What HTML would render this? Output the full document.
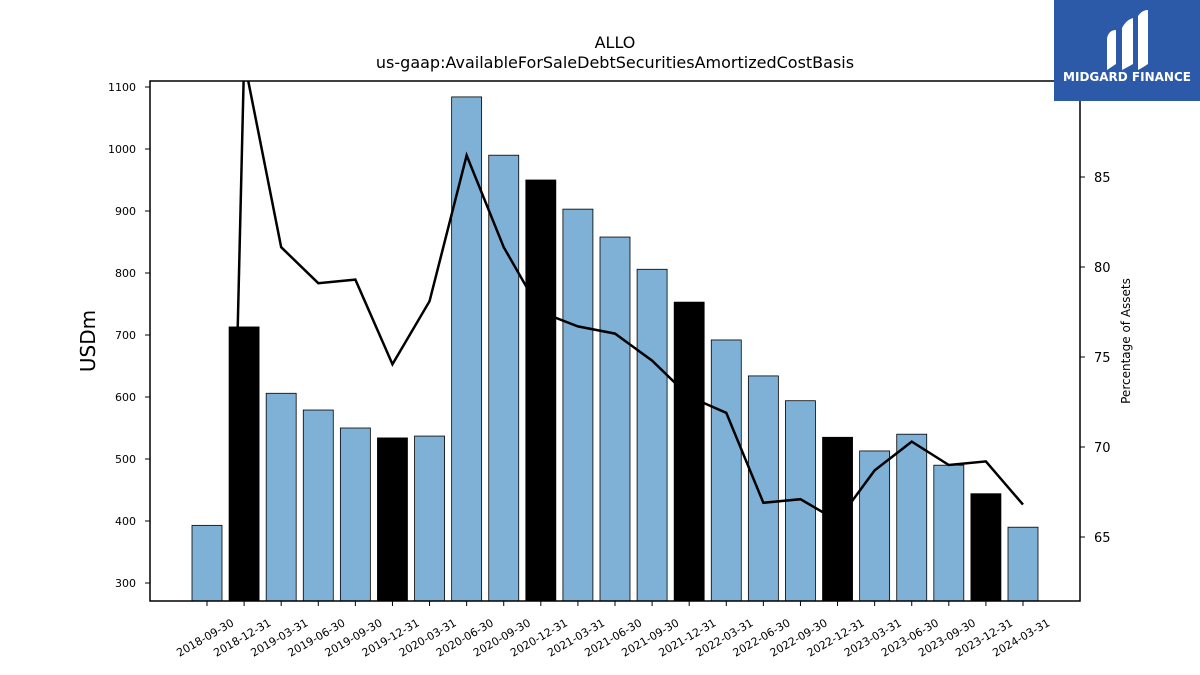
<!DOCTYPE html>
<html><head><meta charset="utf-8"><style>
html,body{margin:0;background:#fff;width:1200px;height:675px;overflow:hidden;font-family:"DejaVu Sans","Liberation Sans",sans-serif}
svg{display:block}
</style></head><body>
<svg id="chart" width="1200" height="675" xmlns="http://www.w3.org/2000/svg" font-family="DejaVu Sans, Liberation Sans, sans-serif" overflow="hidden">
<text x="615" y="48" text-anchor="middle" font-size="16">ALLO</text>
<text x="615" y="68" text-anchor="middle" font-size="16">us-gaap:AvailableForSaleDebtSecuritiesAmortizedCostBasis</text>
<g id="bars"></g>
<g id="line"></g>
<rect x="150" y="81" width="930" height="520" fill="none" stroke="#000" stroke-width="1.5"/>
<g id="axes"></g>
<text transform="translate(95,341) rotate(-90)" text-anchor="middle" font-size="20">USDm</text>
<text transform="translate(1130,341) rotate(-90)" text-anchor="middle" font-size="12">Percentage of Assets</text>
<g>
<rect x="1054" y="0" width="146" height="101" fill="#2c5aa8"/>
<path d="M1107 38 Q1109 30 1116 30 L1116 64 Q1110 68 1107 70 Z" fill="#fff"/>
<path d="M1122 28 Q1126 20 1133 18 L1133 64 Q1126 68 1122 70 Z" fill="#fff"/>
<path d="M1138 16 Q1142 10 1148 10 L1148 64 Q1142 68 1138 70 Z" fill="#fff"/>
<text x="1127" y="81" text-anchor="middle" font-size="12" font-weight="bold" fill="#fff">MIDGARD FINANCE</text>
</g>
</svg>
<script>
const categories=["2018-09-30","2018-12-31","2019-03-31","2019-06-30","2019-09-30","2019-12-31","2020-03-31","2020-06-30","2020-09-30","2020-12-31","2021-03-31","2021-06-30","2021-09-30","2021-12-31","2022-03-31","2022-06-30","2022-09-30","2022-12-31","2023-03-31","2023-06-30","2023-09-30","2023-12-31","2024-03-31"];
const usdValues=[393,713,606,579,550,534,537,1084,990,950,903,858,806,753,692,634,594,535,513,540,490,444,390];
const pctValues=[5,91.5,81.1,79.1,79.3,74.6,78.1,86.2,81.1,77.5,76.7,76.3,74.8,72.8,71.9,66.9,67.1,65.9,68.7,70.3,69.0,69.2,66.8];
const leftTicks=[300,400,500,600,700,800,900,1000,1100];
const rightTicks=[65,70,75,80,85];
const NS="http://www.w3.org/2000/svg";
const x=i=>207+i*(1023-207)/22;
const yL=v=>583-(v-300)*0.62;
const yR=v=>537-(v-65)*18;
function mk(t,a,p){const e=document.createElementNS(NS,t);for(const k in a)e.setAttribute(k,a[k]);p.appendChild(e);return e;}
const bars=document.getElementById('bars'),line=document.getElementById('line'),axes=document.getElementById('axes');
usdValues.forEach((v,i)=>{
 const yr=categories[i].slice(5)==="12-31";
 const r=mk('rect',{x:x(i)-15,y:yL(v),width:30,height:601-yL(v),fill:yr?'#000':'#7fb0d5',stroke:'#000','stroke-width':0.8},bars);
 
 
});
const cp=mk('clipPath',{id:'clip'},line);mk('rect',{x:150,y:81,width:930,height:520},cp);
const pl=mk('polyline',{points:pctValues.map((v,i)=>x(i)+','+yR(v)).join(' '),fill:'none',stroke:'#000','stroke-width':2.5,'clip-path':'url(#clip)'},line);


leftTicks.forEach(v=>{
 mk('line',{x1:145,x2:150,y1:yL(v),y2:yL(v),stroke:'#000'},axes);
 const t=mk('text',{x:136,y:yL(v)+4,'text-anchor':'end','font-size':11},axes);t.textContent=v;
 
 
});
rightTicks.forEach(v=>{
 mk('line',{x1:1080,x2:1085,y1:yR(v),y2:yR(v),stroke:'#000'},axes);
 const t=mk('text',{x:1094,y:yR(v)+5,'font-size':13},axes);t.textContent=v;
 
 
});
categories.forEach((c,i)=>{
 mk('line',{x1:x(i),x2:x(i),y1:601,y2:606,stroke:'#000'},axes);
 const t=mk('text',{transform:`translate(${x(i)},${641}) rotate(-30)`,'text-anchor':'middle','font-size':11},axes);t.textContent=c;
 
 
});
</script>
</body></html>
